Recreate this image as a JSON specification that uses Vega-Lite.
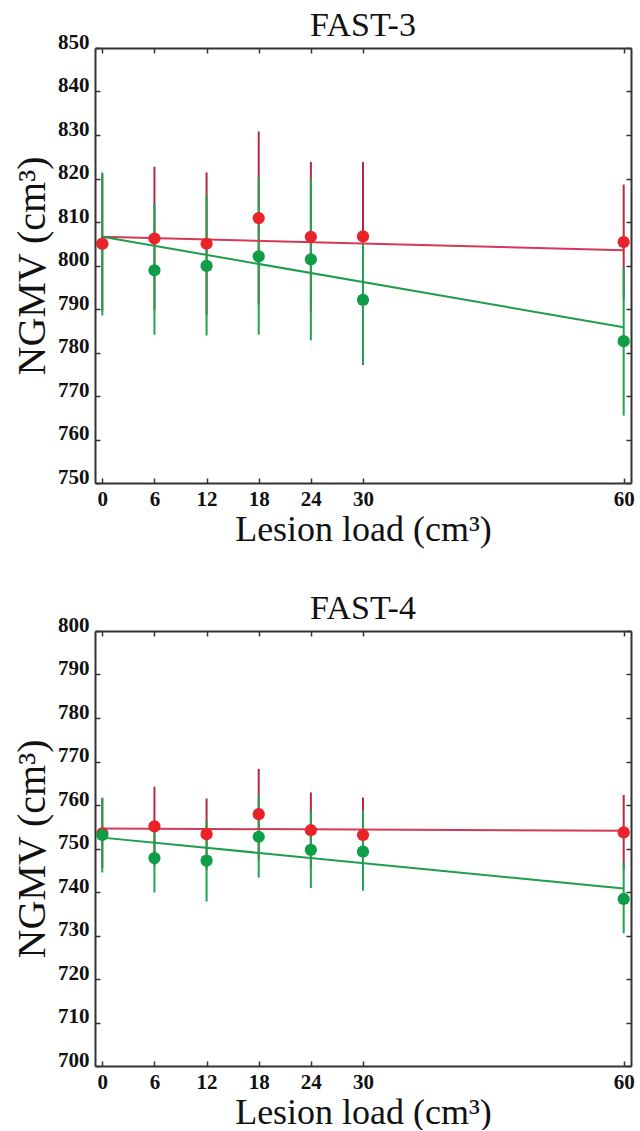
{
  "$schema": "https://vega.github.io/schema/vega-lite/v6.json",
  "background": "white",
  "padding": {"left": 12, "top": 9, "right": 4, "bottom": 0},
  "spacing": 45,
  "config": {
    "view": {"stroke": null},
    "font": "Liberation Serif",
    "axis": {
      "domainColor": "#333",
      "domainWidth": 2,
      "tickColor": "#333",
      "tickWidth": 1.5,
      "tickSize": -5,
      "grid": false,
      "labelFont": "Liberation Serif",
      "labelFontWeight": "bold",
      "labelFontSize": 21,
      "labelColor": "#111",
      "titleFont": "Liberation Serif",
      "titleFontWeight": "normal",
      "titleColor": "#111"
    },
    "title": {"font": "Liberation Serif", "fontSize": 34, "fontWeight": "normal", "color": "#111", "anchor": "middle"}
  },
  "datasets": {
    "pts": [
      {"panel": "FAST-3", "series": "green", "x": 0, "mean": 805.0, "lo": 788.5, "hi": 821.4},
      {"panel": "FAST-3", "series": "green", "x": 6, "mean": 798.9, "lo": 784.1, "hi": 814.2},
      {"panel": "FAST-3", "series": "green", "x": 12, "mean": 799.9, "lo": 783.9, "hi": 816.3},
      {"panel": "FAST-3", "series": "green", "x": 18, "mean": 802.1, "lo": 784.1, "hi": 820.4},
      {"panel": "FAST-3", "series": "green", "x": 24, "mean": 801.4, "lo": 782.8, "hi": 820.0},
      {"panel": "FAST-3", "series": "green", "x": 30, "mean": 792.1, "lo": 777.1, "hi": 807.1},
      {"panel": "FAST-3", "series": "green", "x": 60, "mean": 782.6, "lo": 765.5, "hi": 799.6},
      {"panel": "FAST-3", "series": "red", "x": 0, "mean": 805.0, "lo": 789.5, "hi": 821.0},
      {"panel": "FAST-3", "series": "red", "x": 6, "mean": 806.2, "lo": 789.7, "hi": 822.7},
      {"panel": "FAST-3", "series": "red", "x": 12, "mean": 805.0, "lo": 788.6, "hi": 821.4},
      {"panel": "FAST-3", "series": "red", "x": 18, "mean": 810.9, "lo": 791.0, "hi": 830.8},
      {"panel": "FAST-3", "series": "red", "x": 24, "mean": 806.6, "lo": 789.4, "hi": 823.8},
      {"panel": "FAST-3", "series": "red", "x": 30, "mean": 806.7, "lo": 789.6, "hi": 823.8},
      {"panel": "FAST-3", "series": "red", "x": 60, "mean": 805.4, "lo": 792.2, "hi": 818.6},
      {"panel": "FAST-4", "series": "red", "x": 0, "mean": 753.5, "lo": 745.5, "hi": 761.5},
      {"panel": "FAST-4", "series": "red", "x": 6, "mean": 755.1, "lo": 746.0, "hi": 764.2},
      {"panel": "FAST-4", "series": "red", "x": 12, "mean": 753.3, "lo": 745.1, "hi": 761.5},
      {"panel": "FAST-4", "series": "red", "x": 18, "mean": 757.9, "lo": 747.5, "hi": 768.3},
      {"panel": "FAST-4", "series": "red", "x": 24, "mean": 754.2, "lo": 745.5, "hi": 762.9},
      {"panel": "FAST-4", "series": "red", "x": 30, "mean": 753.1, "lo": 744.5, "hi": 761.7},
      {"panel": "FAST-4", "series": "red", "x": 60, "mean": 753.7, "lo": 745.2, "hi": 762.3},
      {"panel": "FAST-4", "series": "green", "x": 0, "mean": 753.1, "lo": 744.5, "hi": 761.7},
      {"panel": "FAST-4", "series": "green", "x": 6, "mean": 747.8, "lo": 739.9, "hi": 755.8},
      {"panel": "FAST-4", "series": "green", "x": 12, "mean": 747.2, "lo": 737.8, "hi": 756.4},
      {"panel": "FAST-4", "series": "green", "x": 18, "mean": 752.7, "lo": 743.3, "hi": 762.5},
      {"panel": "FAST-4", "series": "green", "x": 24, "mean": 749.7, "lo": 740.9, "hi": 758.7},
      {"panel": "FAST-4", "series": "green", "x": 30, "mean": 749.3, "lo": 740.3, "hi": 758.8},
      {"panel": "FAST-4", "series": "green", "x": 60, "mean": 738.4, "lo": 730.5, "hi": 746.8}
    ],
    "trend": [
      {"panel": "FAST-3", "series": "red", "x": 0, "y": 806.6},
      {"panel": "FAST-3", "series": "red", "x": 60, "y": 803.5},
      {"panel": "FAST-3", "series": "green", "x": 0, "y": 806.6},
      {"panel": "FAST-3", "series": "green", "x": 60, "y": 785.8},
      {"panel": "FAST-4", "series": "red", "x": 0, "y": 754.6},
      {"panel": "FAST-4", "series": "red", "x": 60, "y": 754.1},
      {"panel": "FAST-4", "series": "green", "x": 0, "y": 752.5},
      {"panel": "FAST-4", "series": "green", "x": 60, "y": 740.8}
    ]
  },
  "vconcat": [
    {
      "title": {"text": "FAST-3", "offset": -12},
      "width": 536,
      "height": 435,
      "resolve": {"axis": {"x": "independent", "y": "independent"}},
      "layer": [
        {
          "data": {"name": "pts"},
          "transform": [{"filter": "datum.panel === 'FAST-3' && datum.series === 'red'"}],
          "mark": {"type": "rule", "color": "#b8283c", "strokeWidth": 2},
          "encoding": {
            "x": {"field": "x", "type": "quantitative", "scale": {"domain": [-0.84, 60.84], "nice": false, "zero": false},
              "axis": {"orient": "bottom", "values": [0, 6, 12, 18, 24, 30, 60], "labelPadding": 10, "title": "Lesion load (cm³)", "titleFontSize": 36, "titlePadding": 3, "labelFlush": false}},
            "y": {"field": "lo", "type": "quantitative", "scale": {"domain": [750, 850], "nice": false, "zero": false},
              "axis": {"orient": "left", "values": [750, 760, 770, 780, 790, 800, 810, 820, 830, 840, 850], "labelPadding": 11, "labelBaseline": "alphabetic", "title": "NGMV (cm³)", "titleFontSize": 40, "titlePadding": 5}},
            "y2": {"field": "hi"}
          }
        },
        {
          "data": {"name": "pts"},
          "transform": [{"filter": "datum.panel === 'FAST-3' && datum.series === 'green'"}],
          "mark": {"type": "rule", "color": "#1ea550", "strokeWidth": 2},
          "encoding": {
            "x": {"field": "x", "type": "quantitative", "scale": {"domain": [-0.84, 60.84], "nice": false, "zero": false}, "axis": null},
            "y": {"field": "lo", "type": "quantitative", "scale": {"domain": [750, 850], "nice": false, "zero": false}, "axis": null},
            "y2": {"field": "hi"}
          }
        },
        {
          "data": {"name": "trend"},
          "transform": [{"filter": "datum.panel === 'FAST-3' && datum.series === 'red'"}],
          "mark": {"type": "line", "color": "#d23a58", "strokeWidth": 2},
          "encoding": {
            "x": {"field": "x", "type": "quantitative", "scale": {"domain": [-0.84, 60.84], "nice": false, "zero": false}, "axis": null},
            "y": {"field": "y", "type": "quantitative", "scale": {"domain": [750, 850], "nice": false, "zero": false}, "axis": null}
          }
        },
        {
          "data": {"name": "trend"},
          "transform": [{"filter": "datum.panel === 'FAST-3' && datum.series === 'green'"}],
          "mark": {"type": "line", "color": "#1e9e4c", "strokeWidth": 2},
          "encoding": {
            "x": {"field": "x", "type": "quantitative", "scale": {"domain": [-0.84, 60.84], "nice": false, "zero": false},
              "axis": {"orient": "top", "values": [0, 6, 12, 18, 24, 30, 60], "labels": false, "title": null}},
            "y": {"field": "y", "type": "quantitative", "scale": {"domain": [750, 850], "nice": false, "zero": false},
              "axis": {"orient": "right", "values": [750, 760, 770, 780, 790, 800, 810, 820, 830, 840, 850], "labels": false, "title": null}}
          }
        },
        {
          "data": {"name": "pts"},
          "transform": [{"filter": "datum.panel === 'FAST-3'"}],
          "mark": {"type": "circle", "size": 150, "opacity": 1},
          "encoding": {
            "x": {"field": "x", "type": "quantitative", "scale": {"domain": [-0.84, 60.84], "nice": false, "zero": false}, "axis": null},
            "y": {"field": "mean", "type": "quantitative", "scale": {"domain": [750, 850], "nice": false, "zero": false}, "axis": null},
            "color": {"field": "series", "type": "nominal", "scale": {"domain": ["red", "green"], "range": ["#ea2229", "#0f9d48"]}, "legend": null}
          }
        }
      ]
    },
    {
      "title": {"text": "FAST-4", "offset": -12},
      "width": 536,
      "height": 435,
      "resolve": {"axis": {"x": "independent", "y": "independent"}},
      "layer": [
        {
          "data": {"name": "pts"},
          "transform": [{"filter": "datum.panel === 'FAST-4' && datum.series === 'red'"}],
          "mark": {"type": "rule", "color": "#b8283c", "strokeWidth": 2},
          "encoding": {
            "x": {"field": "x", "type": "quantitative", "scale": {"domain": [-0.84, 60.84], "nice": false, "zero": false},
              "axis": {"orient": "bottom", "values": [0, 6, 12, 18, 24, 30, 60], "labelPadding": 10, "title": "Lesion load (cm³)", "titleFontSize": 36, "titlePadding": 3, "labelFlush": false}},
            "y": {"field": "lo", "type": "quantitative", "scale": {"domain": [700, 800], "nice": false, "zero": false},
              "axis": {"orient": "left", "values": [700, 710, 720, 730, 740, 750, 760, 770, 780, 790, 800], "labelPadding": 11, "labelBaseline": "alphabetic", "title": "NGMV (cm³)", "titleFontSize": 40, "titlePadding": 5}},
            "y2": {"field": "hi"}
          }
        },
        {
          "data": {"name": "pts"},
          "transform": [{"filter": "datum.panel === 'FAST-4' && datum.series === 'green'"}],
          "mark": {"type": "rule", "color": "#1ea550", "strokeWidth": 2},
          "encoding": {
            "x": {"field": "x", "type": "quantitative", "scale": {"domain": [-0.84, 60.84], "nice": false, "zero": false}, "axis": null},
            "y": {"field": "lo", "type": "quantitative", "scale": {"domain": [700, 800], "nice": false, "zero": false}, "axis": null},
            "y2": {"field": "hi"}
          }
        },
        {
          "data": {"name": "trend"},
          "transform": [{"filter": "datum.panel === 'FAST-4' && datum.series === 'red'"}],
          "mark": {"type": "line", "color": "#d23a58", "strokeWidth": 2},
          "encoding": {
            "x": {"field": "x", "type": "quantitative", "scale": {"domain": [-0.84, 60.84], "nice": false, "zero": false}, "axis": null},
            "y": {"field": "y", "type": "quantitative", "scale": {"domain": [700, 800], "nice": false, "zero": false}, "axis": null}
          }
        },
        {
          "data": {"name": "trend"},
          "transform": [{"filter": "datum.panel === 'FAST-4' && datum.series === 'green'"}],
          "mark": {"type": "line", "color": "#1e9e4c", "strokeWidth": 2},
          "encoding": {
            "x": {"field": "x", "type": "quantitative", "scale": {"domain": [-0.84, 60.84], "nice": false, "zero": false},
              "axis": {"orient": "top", "values": [0, 6, 12, 18, 24, 30, 60], "labels": false, "title": null}},
            "y": {"field": "y", "type": "quantitative", "scale": {"domain": [700, 800], "nice": false, "zero": false},
              "axis": {"orient": "right", "values": [700, 710, 720, 730, 740, 750, 760, 770, 780, 790, 800], "labels": false, "title": null}}
          }
        },
        {
          "data": {"name": "pts"},
          "transform": [{"filter": "datum.panel === 'FAST-4'"}],
          "mark": {"type": "circle", "size": 150, "opacity": 1},
          "encoding": {
            "x": {"field": "x", "type": "quantitative", "scale": {"domain": [-0.84, 60.84], "nice": false, "zero": false}, "axis": null},
            "y": {"field": "mean", "type": "quantitative", "scale": {"domain": [700, 800], "nice": false, "zero": false}, "axis": null},
            "color": {"field": "series", "type": "nominal", "scale": {"domain": ["red", "green"], "range": ["#ea2229", "#0f9d48"]}, "legend": null}
          }
        }
      ]
    }
  ]
}
